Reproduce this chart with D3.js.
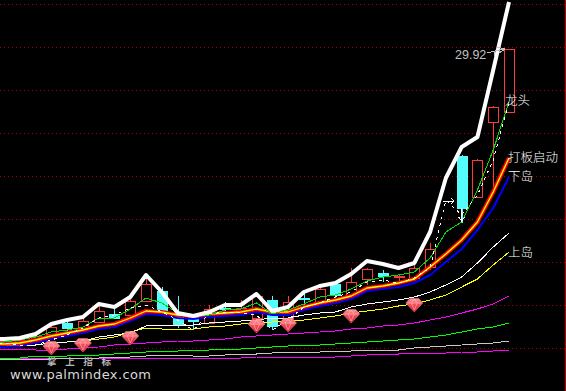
<!DOCTYPE html>
<html><head><meta charset="utf-8">
<script src="https://cdn.jsdelivr.net/npm/d3@7/dist/d3.min.js"></script>
<style>html,body{margin:0;padding:0;background:#000;overflow:hidden}svg{display:block}</style>
</head><body><svg id="c" width="566" height="391"></svg>
<script>
const W=566,H=391;
// bar index for candles 0..32; line series hold one value per bar
const barIdx=[0,1,2,3,4,5,6,7,8,9,10,11,12,13,14,15,16,17,18,19,20,21,22,23,24,25,26,27,29,30,31,32];
const fallingBars=[4,7,10,11,12,14,17,19,21,24,29];
const bodyTop=[50,51,55,64,68,70,80,77,90,107,100,74,74,82,83,83,95,91,89,93,102,107,109,122,118,115,123,142,235,231,284,342];
const bodyBot=[47,47,51,57,63,63,69,73,76,90,81,67,70,68,82,79,73,65,73,92,86,96,96,112,115,114,113,124,183,194,269,279];
const highs=[50,51,56,65,72,73,86,82,94,113,104,95,75,86,89,91,97,95,95,98,104,108,123,123,121,116,128,148,236,232,285,342];
const lows=[47,47,50,53,60,61,68,72,75,89,80,63,61,67,78,77,69,61,64,84,85,92,95,106,109,108,112,121,168,193,196,279];

const whiteThick=[52,53,57,67,71,74,87,84,94,116,99,78,75,79,86,86,97,80,84,99,105,108,117,130,127,123,128,159,213,244,254,321,389];
const redBand=[47,48,51,55,58,61,65,67,73,80,79,76,75,77,78,79,82,79,79,84,88,91,95,103,105,108,112,124,137,151,169,199,233];
const blueLine=[44,45,48,52,55,58,62,64,70,77,76,73,72,74,75,76,79,76,76,81,85,88,92,100,102,104,108,116,129,142,161,183,214];
const whiteThin=[46,46,46,48,49,50,54,56,58,65,66,66,66,68,69,70,71,73,73,76,78,79,84,87,89,91,94,99,106,114,128,144,158];
const yellowLine=[44,45,46,48,49,50,52,54,59,63,62,62,62,64,65,67,68,69,70,71,73,75,78,80,82,85,87,91,96,104,112,126,139];
const magentaA=[42,42,41,41,42,43,44,46,47,48,49,50,50,51,52,54,55,56,57,58,59,60,62,63,65,66,68,71,74,78,82,87,95];
const greenB=[33,33,35,35,35,36,36,37,38,39,40,40,41,41,42,42,43,44,45,46,46,47,48,49,50,51,52,54,56,59,62,64,68];
const grayLine=[32,32,32,32,33,33,33,34,34,35,36,36,35,35,36,37,37,38,39,39,39,40,40,41,41,41,43,44,45,46,47,48,50];
const magentaB=[33,33,33,33,33,33,33,33,33,33,33,33,33,33,33,33,34,34,34,34,34,34,35,36,37,37,38,38,38,39,39,40,41];
const greenThin=[49,51,54,59,61,64,73,73,82,93,88,78,75,76,81,82,88,77,81,87,94,96,102,110,114,116,119,133,159,169,201,241,289];
const dashedWhite=[48,46,46,51,56,63,73,76,83,86,79,71,61,77,79,78,76,61,71,84,88,94,99,109,111,108,113,123,191,176,196,231,289];

const gridLevels=[43,86,129,172,215,258,301,344,387];
const gemBars=[3,5,8,16,18,22,26];
const gemLevels=[43,46,53,65,66,75,86];
const labels=[["龙头",32,291],["打板启动",32,234],["下岛",32,215],["上岛",32,139]];
const peakLabel="29.92", peakLevel=337;
const brandCn="掌 上 指 标", brandUrl="www.palmindex.com";

const x=d3.scaleLinear().domain([0,32]).range([4,509]);
const y=d3.scaleLinear().domain([0,391]).range([391,0]);
const svg=d3.select("#c");
svg.append("rect").attr("width",W).attr("height",H).attr("fill","#000");

// grid
svg.append("g").attr("shape-rendering","crispEdges").selectAll("line").data(gridLevels).join("line")
 .attr("x1",0).attr("x2",W).attr("y1",d=>y(d)+.5).attr("y2",d=>y(d)+.5)
 .attr("stroke","#a80000").attr("stroke-dasharray","1,3");
svg.append("line").attr("x1",565.5).attr("x2",565.5).attr("y1",0).attr("y2",H).attr("stroke","#c00000");

// candles
const RED="#ff3a3a",CY="#54fcfc";
const bars=barIdx.map((b,i)=>({b,top:bodyTop[i],bot:bodyBot[i],hi:highs[i],lo:lows[i],fall:fallingBars.includes(b)}));
const gc=svg.append("g").attr("shape-rendering","crispEdges");
gc.selectAll(".w").data(bars).join("line")
 .attr("x1",d=>Math.round(x(d.b))+.5).attr("x2",d=>Math.round(x(d.b))+.5)
 .attr("y1",d=>y(d.hi)).attr("y2",d=>y(d.lo)).attr("stroke",d=>d.fall?CY:RED);
gc.selectAll(".b").data(bars).join("rect")
 .attr("x",d=>Math.round(x(d.b))-5+.5).attr("width",10).attr("y",d=>y(d.top)+.5).attr("height",d=>Math.max(1,y(d.bot)-y(d.top)))
 .attr("fill",d=>d.fall?CY:"#000").attr("stroke",d=>d.fall?CY:RED);

// lines
const line=d3.line().x((d,i)=>x(i)).y(d=>y(d));
function extend(a){return d3.line().x(d=>x(d[0])).y(d=>y(d[1]))([[-0.3,a[0]],...a.map((v,i)=>[i,v])]);}
function draw(a,c,w,o={}){
 svg.append("path").attr("d",extend(a)).attr("fill","none").attr("stroke",c).attr("stroke-width",w)
  .attr("stroke-dasharray",o.dash||null).attr("shape-rendering",o.crisp===false?"auto":"crispEdges").attr("stroke-linejoin","round");
}
draw(magentaB,"#ff00ff",1);
draw(grayLine,"#c8c8c8",1);
draw(greenB,"#00ff00",1);
draw(magentaA,"#ff00ff",1);
draw(yellowLine,"#ffff00",1);
draw(whiteThin,"#ffffff",1);
draw(blueLine,"#0000ff",2,{crisp:false});
draw(redBand,"#ff0000",4.2,{crisp:false});
draw(redBand,"#ffff00",1.3,{crisp:false});
draw(greenThin,"#00e000",1);
draw(dashedWhite,"#ffffff",1,{dash:"3,4"});
draw(whiteThick,"#ffffff",4,{crisp:false});

// small arrows on dashed line
const ar=svg.append("g").attr("stroke","#fff").attr("fill","none").attr("shape-rendering","crispEdges");
const arrow=d3.path();
arrow.moveTo(x(28)-3,y(190));arrow.lineTo(x(28)+8,y(190));arrow.moveTo(x(28)+5,y(193));arrow.lineTo(x(28)+8,y(190));arrow.lineTo(x(28)+5,y(187));
arrow.moveTo(x(29),y(183));arrow.lineTo(x(29),y(170));arrow.moveTo(x(29)-3,y(174));arrow.lineTo(x(29),y(170));arrow.lineTo(x(29)+3,y(174));
ar.append("path").attr("d",arrow.toString());

// gems
const defs=svg.append("defs");
const grad=defs.append("linearGradient").attr("id","gem").attr("x1",0).attr("x2",0).attr("y1",0).attr("y2",1);
grad.append("stop").attr("offset",0).attr("stop-color","#ff9a9a");
grad.append("stop").attr("offset",.5).attr("stop-color","#f04858");
grad.append("stop").attr("offset",1).attr("stop-color","#e01830");
const gems=svg.append("g").selectAll("g").data(gemBars.map((b,i)=>({b,l:gemLevels[i]}))).join("g")
 .attr("transform",d=>`translate(${x(d.b)},${y(d.l)})`);
gems.append("path").attr("d","M-4.5,-6.5H4.5L8.5,-2L0,7L-8.5,-2Z").attr("fill","url(#gem)").attr("stroke","#ff7f80").attr("stroke-width",.5);
gems.append("path").attr("d","M-7,-2H7M-3,-2L0,5L3,-2L0,-6Z").attr("fill","none").attr("stroke","#ffc0c0").attr("stroke-width",.6);

// labels
const FONT="'Noto Sans CJK SC','Noto Sans',sans-serif";
svg.append("g").selectAll("text").data(labels).join("text")
 .attr("x",d=>x(d[1])-(d[0]==="龙头"?4:1)).attr("y",d=>y(d[2])+5)
 .attr("fill","#fff").attr("font-family",FONT).attr("font-size",12.5).attr("font-weight",300).text(d=>d[0]);
svg.append("text").attr("x",x(32)-54).attr("y",y(peakLevel)+5).attr("fill","#c0c0c0")
 .attr("font-family","'Liberation Sans',sans-serif").attr("font-size",12.5).text(peakLabel);
const pk=d3.path();
pk.moveTo(x(32)-22,y(338));pk.lineTo(x(32)-6,y(342));pk.moveTo(x(32)-12,y(344));pk.lineTo(x(32)-4,y(342));pk.lineTo(x(32)-10,y(338));
pk.moveTo(x(32)-15,y(340));pk.lineTo(x(32)-15,y(335));
svg.append("path").attr("d",pk.toString()).attr("stroke","#c0c0c0").attr("fill","none").attr("shape-rendering","crispEdges");

// watermark
svg.append("text").attr("x",47).attr("y",365).attr("fill","#b8b8b8").attr("font-family",FONT).attr("font-weight",700)
 .attr("font-size",9.5).attr("word-spacing",6.5).text(brandCn);
svg.append("text").attr("x",10).attr("y",379).attr("fill","#d8d8d8").attr("font-family","'DejaVu Sans',sans-serif")
 .attr("font-size",13).attr("textLength",141).text(brandUrl);
</script></body></html>
